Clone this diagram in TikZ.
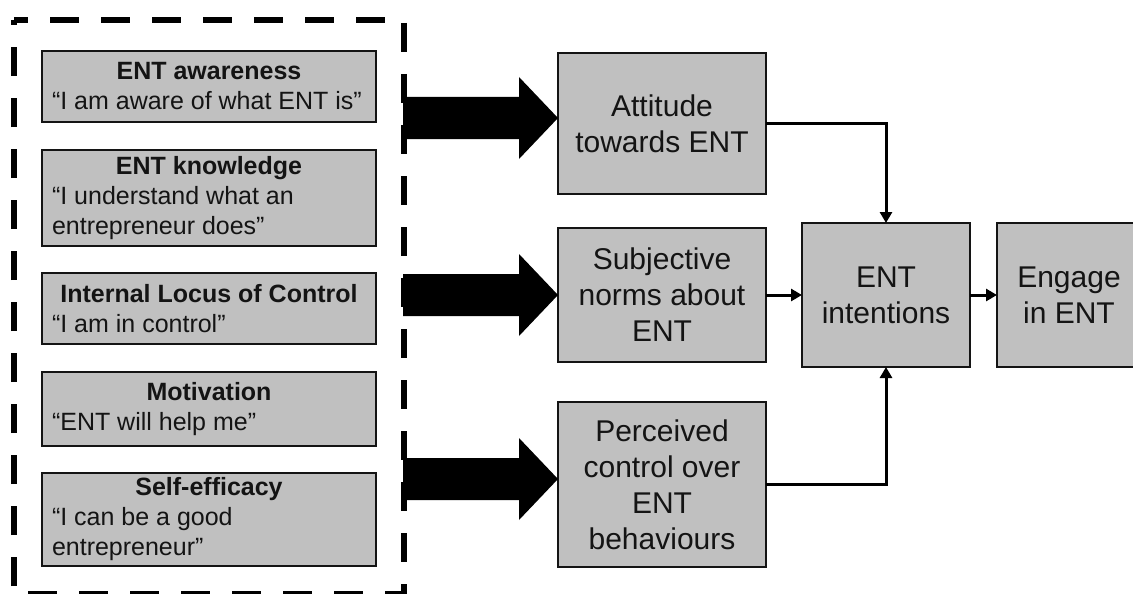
\documentclass[tikz,border=0pt]{standalone}
\usepackage{fontspec}
\setmainfont{Liberation Sans}
\usetikzlibrary{arrows.meta,calc}

\definecolor{boxgray}{RGB}{192,192,192}
\definecolor{inkgray}{RGB}{20,20,20}

\tikzset{
  box/.style={draw=inkgray, line width=2.5pt, fill=boxgray, inner sep=0pt, outer sep=0pt,
              text=inkgray},
  factorbox/.style={box, minimum width=334pt, font=\fontsize{25pt}{30pt}\selectfont},
  stagebox/.style={box, align=center, font=\fontsize{30pt}{36pt}\selectfont},
  conn/.style={draw=black, line width=3pt, -{Triangle[length=11pt,width=12pt]}},
  groupframe/.style={draw=black, line width=6pt, dash pattern=on 29pt off 22pt, dash phase=15pt},
  fatarrow/.style={fill=black}
}

% heading centred, quotation set ragged right
\newcommand\factor[2]{\parbox{314pt}{\centering\textbf{#1}\par\raggedright #2}}

\begin{document}
\begin{tikzpicture}[x=1pt,y=-1pt]
  \useasboundingbox (0,0) rectangle (1133,594);

  % antecedent factors
  \node[factorbox, minimum height=71pt] (aw)  at (209,86.5)
    {\factor{ENT awareness}{“I am aware of what ENT is”}};
  \node[factorbox, minimum height=96pt] (kn)  at (209,198)
    {\factor{ENT knowledge}{“I understand what an\\entrepreneur does”}};
  \node[factorbox, minimum height=71pt] (loc) at (209,308.5)
    {\factor{Internal Locus of Control}{“I am in control”}};
  \node[factorbox, minimum height=74pt] (mot) at (209,409)
    {\factor{Motivation}{“ENT will help me”}};
  \node[factorbox, minimum height=93pt] (se)  at (209,519.5)
    {\factor{Self-efficacy}{“I can be a good\\entrepreneur”}};

  % dashed frame grouping the factors
  \draw[groupframe] (14,20) -- (404,20) -- (404,594) -- (14,594) -- cycle;

  % intention model
  \node[stagebox, minimum width=208pt, minimum height=141pt] (att) at (662,123.5)
    {Attitude\\towards ENT};
  \node[stagebox, minimum width=208pt, minimum height=134pt] (sub) at (662,295)
    {Subjective\\norms about\\ENT};
  \node[stagebox, minimum width=208pt, minimum height=165pt] (per) at (662,484.5)
    {Perceived\\control over\\ENT\\behaviours};
  \node[stagebox, minimum width=168pt, minimum height=144pt] (ent) at (886,295)
    {ENT\\intentions};
  % last box runs past the right margin; its text sits 16pt left of the box centre
  \node[box, minimum width=176pt, minimum height=144pt,
        font=\fontsize{30pt}{36pt}\selectfont] (eng) at (1085,295)
    {\hspace*{-32pt}\parbox{110pt}{\centering Engage\\in ENT}};

  % block arrows from the factor group into the model
  \coordinate (t1) at ($(att.west)+(0,-5.5)$);
  \coordinate (t2) at (sub.west);
  \coordinate (t3) at ($(per.west)+(0,-5.5)$);
  \foreach \t in {t1,t2,t3}{
    \fill[fatarrow] (\t) -- ++(-39,-41) -- ++(0,20) -- ++(-116,0) -- ++(0,42)
      -- ++(116,0) -- ++(0,20) -- cycle;
  }

  % connectors
  \draw[conn] (att.east) -| (ent.north);
  \draw[conn] (per.east) -| (ent.south);
  \draw[conn] (sub.east) -- (ent.west);
  \draw[conn] (ent.east) -- (eng.west);
\end{tikzpicture}
\end{document}
